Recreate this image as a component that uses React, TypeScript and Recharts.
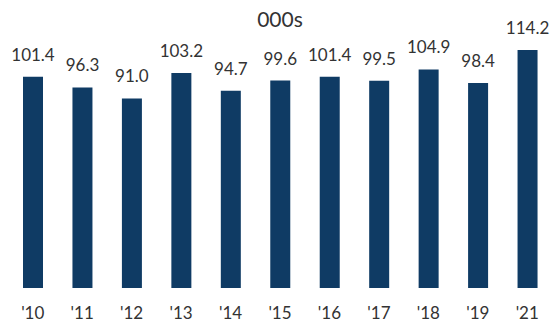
import React from 'react';
import { BarChart, Bar, XAxis, YAxis, LabelList } from 'recharts';

const categories = ["'10", "'11", "'12", "'13", "'14", "'15", "'16", "'17", "'18", "'19", "'21"];
const values = [101.4, 96.3, 91.0, 103.2, 94.7, 99.6, 101.4, 99.5, 104.9, 98.4, 114.2];
const title = '000s';

const data = categories.map((c, i) => ({ name: c, value: values[i] }));

const FONT = 'Lato, "Open Sans", sans-serif';
const TEXT = '#333333';

export default function App() {
  return (
    <div style={{ position: 'absolute', left: 0, top: 0, width: 552, height: 324, background: '#fff' }}>
      <div
        style={{
          position: 'absolute',
          left: 0,
          width: 560,
          top: 7,
          textAlign: 'center',
          fontFamily: FONT,
          fontSize: 21,
          color: TEXT,
          lineHeight: '24px',
        }}
      >
        {title}
      </div>
      <BarChart width={552} height={324} data={data} margin={{ top: 38, right: 0, bottom: 0, left: 8 }}>
        <XAxis
          dataKey="name"
          axisLine={false}
          tickLine={false}
          tickSize={0}
          tickMargin={19}
          height={36}
          interval={0}
          tick={{ fill: TEXT, fontSize: 17, fontFamily: FONT }}
        />
        <YAxis hide domain={[0, 120]} />
        <Bar dataKey="value" fill="#0f3b64" barSize={20} isAnimationActive={false}>
          <LabelList
            dataKey="value"
            position="top"
            offset={16}
            formatter={(v: number) => v.toFixed(1)}
            style={{ fill: TEXT, fontSize: 17, fontFamily: FONT }}
          />
        </Bar>
      </BarChart>
    </div>
  );
}
